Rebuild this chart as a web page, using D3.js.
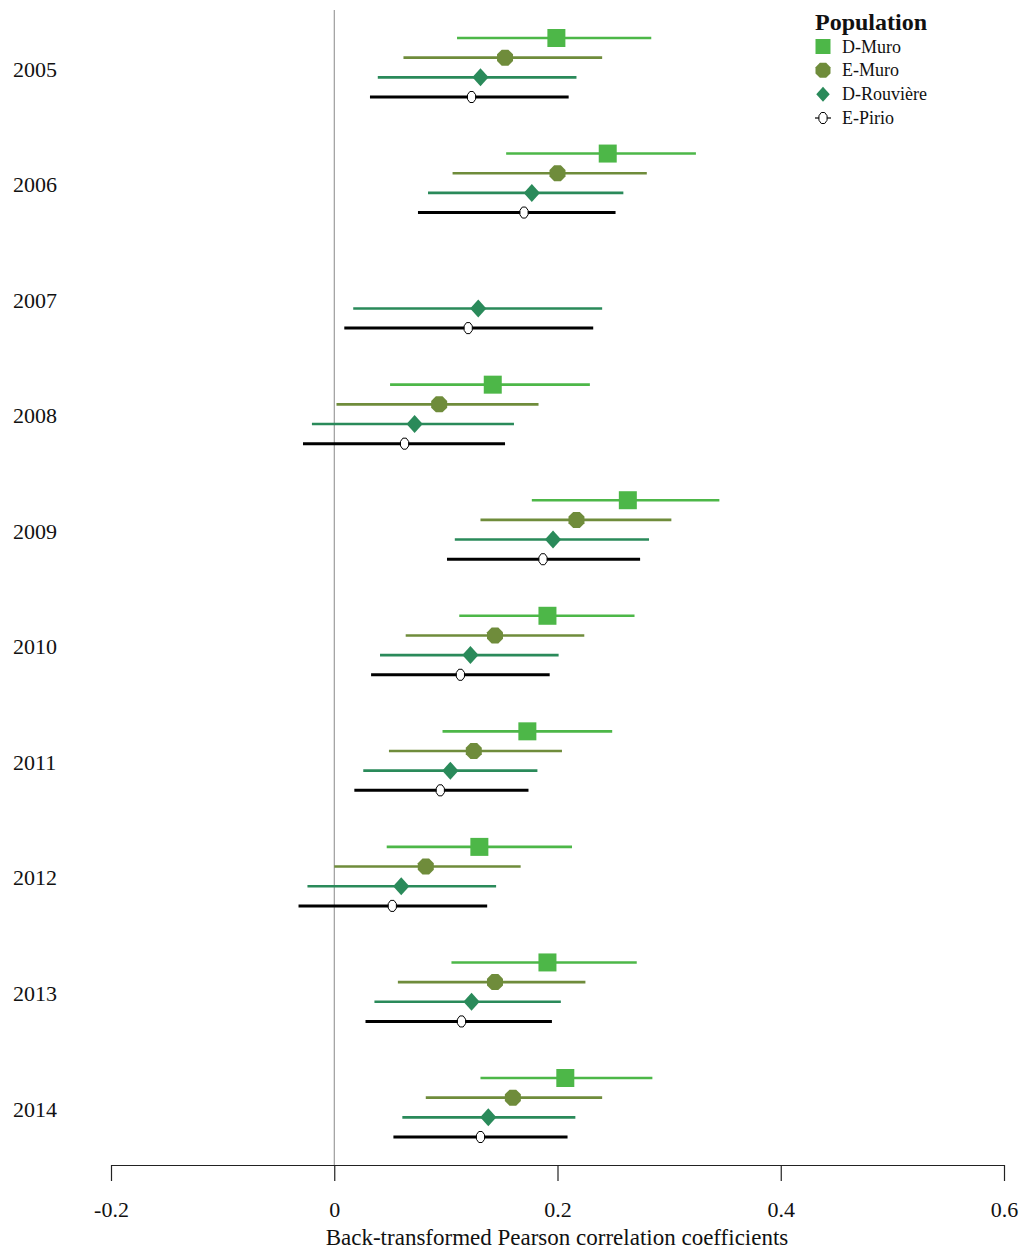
<!DOCTYPE html>
<html>
<head>
<meta charset="utf-8">
<script src="https://cdn.jsdelivr.net/npm/d3@7"></script>
<style>
  body { margin: 0; background: #fff; }
  text { font-family: "Liberation Serif", "Times New Roman", serif; fill: #111; }
</style>
</head>
<body>
<div id="chart"></div>
<script>
// years and populations
const years = ['2005', '2006', '2007', '2008', '2009', '2010', '2011', '2012', '2013', '2014'];
const populations = ['D-Muro', 'E-Muro', 'D-Rouvière', 'E-Pirio'];

// estimate, lower and upper bound per year (null = no data)
const dMuroEst = [0.199, 0.245, null, 0.142, 0.263, 0.191, 0.173, 0.130, 0.191, 0.207];
const dMuroLo  = [0.110, 0.154, null, 0.050, 0.177, 0.112, 0.097, 0.047, 0.105, 0.131];
const dMuroHi  = [0.284, 0.324, null, 0.229, 0.345, 0.269, 0.249, 0.213, 0.271, 0.285];

const eMuroEst = [0.153, 0.200, null, 0.094, 0.217, 0.144, 0.125, 0.082, 0.144, 0.160];
const eMuroLo  = [0.062, 0.106, null, 0.002, 0.131, 0.064, 0.049, 0.000, 0.057, 0.082];
const eMuroHi  = [0.240, 0.280, null, 0.183, 0.302, 0.224, 0.204, 0.167, 0.225, 0.240];

const dRouvEst = [0.131, 0.177, 0.129, 0.072, 0.196, 0.122, 0.104, 0.060, 0.123, 0.138];
const dRouvLo  = [0.039, 0.084, 0.017, -0.020, 0.108, 0.041, 0.026, -0.024, 0.036, 0.061];
const dRouvHi  = [0.217, 0.259, 0.240, 0.161, 0.282, 0.201, 0.182, 0.145, 0.203, 0.216];

const ePirioEst = [0.123, 0.170, 0.120, 0.063, 0.187, 0.113, 0.095, 0.052, 0.114, 0.131];
const ePirioLo  = [0.032, 0.075, 0.009, -0.028, 0.101, 0.033, 0.018, -0.032, 0.028, 0.053];
const ePirioHi  = [0.210, 0.252, 0.232, 0.153, 0.274, 0.193, 0.174, 0.137, 0.195, 0.209];

const xTicks = [-0.2, 0, 0.2, 0.4, 0.6];
const xTickLabels = ['-0.2', '0', '0.2', '0.4', '0.6'];

const colors = {'D-Muro': '#4db748', 'E-Muro': '#6f8c3b', 'D-Rouvière': '#2a8a5a', 'E-Pirio': '#000'};
const shapes = {'D-Muro': 'square', 'E-Muro': 'octagon', 'D-Rouvière': 'diamond', 'E-Pirio': 'small'};

const width = 1024, height = 1250;

// build rows from the arrays
const est = [dMuroEst, eMuroEst, dRouvEst, ePirioEst];
const lo = [dMuroLo, eMuroLo, dRouvLo, ePirioLo];
const hi = [dMuroHi, eMuroHi, dRouvHi, ePirioHi];
let rows = [];
populations.forEach(function(p, i) {
  years.forEach(function(y, j) {
    if (est[i][j] !== null) rows.push({pop: p, year: y, est: est[i][j], lo: lo[i][j], hi: hi[i][j]});
  });
});

let svg = d3.select('#chart').append('svg')
  .attr('width', width)
  .attr('height', height);

let xScale = d3.scaleLinear().domain([-0.2, 0.6]).range([111, 1004]);
let yScale = d3.scalePoint().domain(years).range([67.5, 1107.5]);
let offset = d3.scalePoint().domain(populations).range([-29.5, 29.5]);

// vertical line at zero
svg.append('line')
  .attr('x1', xScale(0)).attr('x2', xScale(0))
  .attr('y1', 10).attr('y2', 1165)
  .attr('stroke', '#888').attr('stroke-width', 1);

// x axis
let xAxis = svg.append('g')
  .attr('transform', 'translate(0,1165)')
  .call(d3.axisBottom(xScale).tickValues(xTicks)
    .tickFormat((d, i) => xTickLabels[i])
    .tickSize(16).tickSizeOuter(0).tickPadding(20));
xAxis.selectAll('line, path').attr('stroke', '#222').attr('stroke-width', 1.2);
xAxis.selectAll('text')
  .style('font-family', '"Liberation Serif", serif')
  .style('font-size', '22px')
  .attr('fill', '#111');

svg.append('text')
  .attr('x', 557).attr('y', 1245)
  .attr('text-anchor', 'middle')
  .style('font-size', '23px')
  .text('Back-transformed Pearson correlation coefficients');

// year labels
svg.selectAll('.year')
  .data(years).enter()
  .append('text')
  .attr('class', 'year')
  .attr('x', 13)
  .attr('y', d => yScale(d) + 9)
  .style('font-size', '22px')
  .text(d => d);

// marker shapes
function shapePath(type, s) {
  const p = d3.path();
  if (type === 'square') {
    p.rect(-s / 2, -s / 2, s, s);
  } else if (type === 'diamond') {
    p.moveTo(0, -s / 2); p.lineTo(s * 0.45, 0); p.lineTo(0, s / 2); p.lineTo(-s * 0.45, 0); p.closePath();
  } else {
    const rx = type === 'small' ? s * 0.37 : s / 2;
    const ry = s / 2;
    for (let k = 0; k < 8; k++) {
      const a = Math.PI / 8 + k * Math.PI / 4;
      const px = rx * Math.cos(a) / Math.cos(Math.PI / 8), py = ry * Math.sin(a) / Math.cos(Math.PI / 8);
      if (k === 0) p.moveTo(px, py); else p.lineTo(px, py);
    }
    p.closePath();
  }
  return p.toString();
}
const markerSize = {'D-Muro': 18, 'E-Muro': 16, 'D-Rouvière': 18, 'E-Pirio': 11};

// error bars
svg.selectAll('.bar')
  .data(rows).enter()
  .append('line')
  .attr('x1', d => xScale(d.lo))
  .attr('x2', d => xScale(d.hi))
  .attr('y1', d => yScale(d.year) + offset(d.pop))
  .attr('y2', d => yScale(d.year) + offset(d.pop))
  .attr('stroke', d => colors[d.pop])
  .attr('stroke-width', d => d.pop === 'E-Pirio' ? 3 : 2.6);

// point estimates
svg.selectAll('.pt')
  .data(rows).enter()
  .append('path')
  .attr('transform', d => `translate(${xScale(d.est)},${yScale(d.year) + offset(d.pop)})`)
  .attr('d', d => shapePath(shapes[d.pop], markerSize[d.pop]))
  .attr('fill', d => d.pop === 'E-Pirio' ? '#fff' : colors[d.pop])
  .attr('stroke', d => d.pop === 'E-Pirio' ? '#000' : 'none')
  .attr('stroke-width', 1);

// legend
let legend = svg.append('g');
legend.append('text')
  .attr('x', 815).attr('y', 30)
  .style('font-size', '24px')
  .style('font-weight', 'bold')
  .text('Population');
let legendRow = d3.scalePoint().domain(populations).range([46.5, 118]);
populations.forEach(function(p) {
  let g = legend.append('g').attr('transform', `translate(823,${legendRow(p)})`);
  if (p === 'E-Pirio') {
    g.append('line').attr('x1', -8).attr('x2', 8).attr('stroke', '#000').attr('stroke-width', 1.2);
  }
  g.append('path')
    .attr('d', shapePath(shapes[p], p === 'E-Pirio' ? 11 : 15))
    .attr('fill', p === 'E-Pirio' ? '#fff' : colors[p])
    .attr('stroke', p === 'E-Pirio' ? '#000' : 'none');
  legend.append('text')
    .attr('x', 842).attr('y', legendRow(p) + 6)
    .style('font-size', '18px')
    .text(p);
});
</script>
</body>
</html>
